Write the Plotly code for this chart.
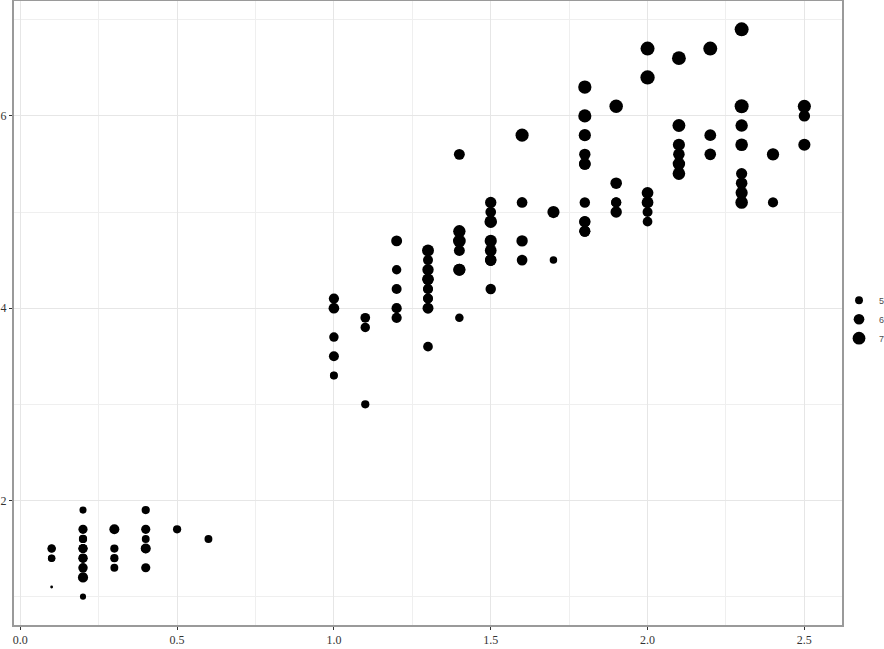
import plotly.graph_objects as go
import numpy as np

# iris: Petal.Width (x), Petal.Length (y), Sepal.Length (size)
petal_width = [
0.2,0.2,0.2,0.2,0.2,0.4,0.3,0.2,0.2,0.1,0.2,0.2,0.1,0.1,0.2,0.4,0.4,0.3,0.3,0.3,
0.2,0.4,0.2,0.5,0.2,0.2,0.4,0.2,0.2,0.2,0.2,0.4,0.1,0.2,0.2,0.2,0.2,0.1,0.2,0.2,
0.3,0.3,0.2,0.6,0.4,0.3,0.2,0.2,0.2,0.2,
1.4,1.5,1.5,1.3,1.5,1.3,1.6,1.0,1.3,1.4,1.0,1.5,1.0,1.4,1.3,1.4,1.5,1.0,1.5,1.1,
1.8,1.3,1.5,1.2,1.3,1.4,1.4,1.7,1.5,1.0,1.1,1.0,1.2,1.6,1.5,1.6,1.5,1.3,1.3,1.3,
1.2,1.4,1.2,1.0,1.3,1.2,1.3,1.3,1.1,1.3,
2.5,1.9,2.1,1.8,2.2,2.1,1.7,1.8,1.8,2.5,2.0,1.9,2.1,2.0,2.4,2.3,1.8,2.2,2.3,1.5,
2.3,2.0,2.0,1.8,2.1,1.8,1.8,1.8,2.1,1.6,1.9,2.0,2.2,1.5,1.4,2.3,2.4,1.8,1.8,2.1,
2.4,2.3,1.9,2.3,2.5,2.3,1.9,2.0,2.3,1.8]
petal_length = [
1.4,1.4,1.3,1.5,1.4,1.7,1.4,1.5,1.4,1.5,1.5,1.6,1.4,1.1,1.2,1.5,1.3,1.4,1.7,1.5,
1.7,1.5,1.0,1.7,1.9,1.6,1.6,1.5,1.4,1.6,1.6,1.5,1.5,1.4,1.5,1.2,1.3,1.4,1.3,1.5,
1.3,1.3,1.3,1.6,1.9,1.4,1.6,1.4,1.5,1.4,
4.7,4.5,4.9,4.0,4.6,4.5,4.7,3.3,4.6,3.9,3.5,4.2,4.0,4.7,3.6,4.4,4.5,4.1,4.5,3.9,
4.8,4.0,4.9,4.7,4.3,4.4,4.8,5.0,4.5,3.5,3.8,3.7,3.9,5.1,4.5,4.5,4.7,4.4,4.1,4.0,
4.4,4.6,4.0,3.3,4.2,4.2,4.2,4.3,3.0,4.1,
6.0,5.1,5.9,5.6,5.8,6.6,4.5,6.3,5.8,6.1,5.1,5.3,5.5,5.0,5.1,5.3,5.5,6.7,6.9,5.0,
5.7,4.9,6.7,4.9,5.7,6.0,4.8,4.9,5.6,5.8,6.1,6.4,5.6,5.1,5.6,6.1,5.6,5.5,4.8,5.4,
5.6,5.1,5.1,5.9,5.7,5.2,5.0,5.2,5.4,5.1]
sepal_length = [
5.1,4.9,4.7,4.6,5.0,5.4,4.6,5.0,4.4,4.9,5.4,4.8,4.8,4.3,5.8,5.7,5.4,5.1,5.7,5.1,
5.4,5.1,4.6,5.1,4.8,5.0,5.0,5.2,5.2,4.7,4.8,5.4,5.2,5.5,4.9,5.0,5.5,4.9,4.4,5.1,
5.0,4.5,4.4,5.0,5.1,4.8,5.1,4.6,5.3,5.0,
7.0,6.4,6.9,5.5,6.5,5.7,6.3,4.9,6.6,5.2,5.0,5.9,6.0,6.1,5.6,6.7,5.6,5.8,6.2,5.6,
5.9,6.1,6.3,6.1,6.4,6.6,6.8,6.7,6.0,5.7,5.5,5.5,5.8,6.0,5.4,6.0,6.7,6.3,5.6,5.5,
5.5,6.1,5.8,5.0,5.6,5.7,5.7,6.2,5.1,5.7,
6.3,5.8,7.1,6.3,6.5,7.6,4.9,7.3,6.7,7.2,6.5,6.4,6.8,5.7,5.8,6.4,6.5,7.7,7.7,6.0,
6.9,5.6,7.7,6.3,6.7,7.2,6.2,6.1,6.4,7.2,7.4,7.9,6.4,6.3,6.1,7.7,6.3,6.4,6.0,6.9,
6.7,6.9,5.8,6.8,6.7,6.7,6.3,6.5,6.2,5.9]
legend_breaks = [5, 6, 7]

vmin, vmax = min(sepal_length), max(sepal_length)

def size_px(v):
    s = 1 + 5 * np.sqrt((np.asarray(v, dtype=float) - vmin) / (vmax - vmin))
    return 2.3 * s + 0.5

fig = go.Figure()
fig.add_trace(go.Scatter(
    x=petal_width, y=petal_length, mode="markers",
    marker=dict(color="black", size=size_px(sepal_length), opacity=1, line=dict(width=0)),
    showlegend=False, hoverinfo="skip"))

for b in legend_breaks:
    fig.add_trace(go.Scatter(
        x=[None], y=[None], mode="markers", name=str(b),
        marker=dict(color="black", size=float(size_px(b)), opacity=1, line=dict(width=0))))

axis_common = dict(
    showline=True, linecolor="#9a9a9a", linewidth=2, mirror=True,
    showgrid=True, gridcolor="#e6e6e6", gridwidth=1,
    zeroline=False, ticks="outside", ticklen=3, tickcolor="#333333", tickwidth=1,
    tickfont=dict(family="Liberation Serif", size=12, color="#333333"),
)
fig.update_xaxes(range=[-0.02, 2.62], tickvals=[0, 0.5, 1.0, 1.5, 2.0, 2.5],
                 ticktext=["0.0", "0.5", "1.0", "1.5", "2.0", "2.5"],
                 minor=dict(tickvals=[0.25, 0.75, 1.25, 1.75, 2.25], showgrid=True,
                            gridcolor="#efefef", gridwidth=1, ticks=""),
                 **axis_common)
fig.update_yaxes(range=[0.705, 7.195], tickvals=[2, 4, 6], ticktext=["2", "4", "6"],
                 minor=dict(tickvals=[1, 3, 5, 7], showgrid=True,
                            gridcolor="#efefef", gridwidth=1, ticks=""),
                 **axis_common)

fig.update_layout(
    width=884, height=649,
    margin=dict(l=14, r=42, t=1, b=24, autoexpand=False),
    plot_bgcolor="white", paper_bgcolor="white",
    legend=dict(x=0.9964, y=0.49, xanchor="left", yanchor="middle",
                font=dict(family="Liberation Sans", size=9, color="#4d4d4d"),
                itemsizing="trace", tracegroupgap=0, itemwidth=30,
                bgcolor="rgba(0,0,0,0)"),
)

fig.write_html("out.html")
